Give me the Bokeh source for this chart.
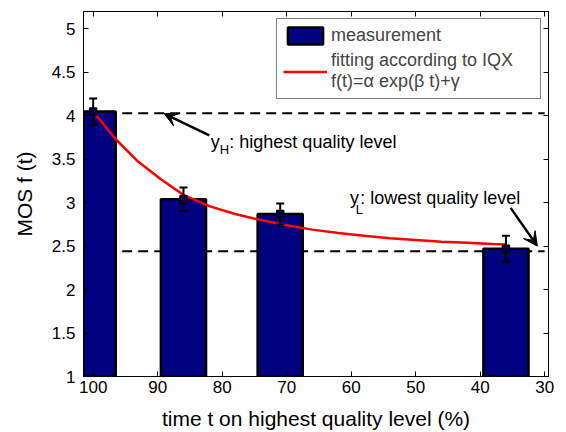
from bokeh.plotting import figure
from bokeh.models import (Range1d, FixedTicker, LinearAxis, Whisker, TeeHead, Arrow,
                          VeeHead, Legend, LegendItem, ColumnDataSource)
from bokeh.embed import file_html
from bokeh.resources import INLINE
from bokeh.core.properties import value

# ---------------- data ----------------
t_meas = [100, 86, 71, 36]            # time on highest quality level (%)
mos = [4.05, 3.04, 2.87, 2.47]        # measured MOS
ci = [0.15, 0.135, 0.12, 0.15]        # error bar half-widths

t_fit = [100, 96.5, 93, 89.5, 86, 82, 78, 74, 70, 66, 62, 58, 54, 50, 46, 42, 38, 36]
f_fit = [4.05, 3.73, 3.47, 3.27, 3.09, 2.96, 2.87, 2.80, 2.74, 2.69, 2.65, 2.62,
         2.59, 2.57, 2.55, 2.54, 2.525, 2.52]

y_high = 4.03
y_low = 2.44
level_t = [95.5, 30]

x_ticks = [100, 90, 80, 70, 60, 50, 40, 30]
y_ticks = [1, 1.5, 2, 2.5, 3, 3.5, 4, 4.5, 5]
y_tick_labels = ["1", "1.5", "2", "2.5", "3", "3.5", "4", "4.5", "5"]

FONT = "Liberation Sans"

p = figure(width=566, height=432, output_backend="svg", toolbar_location=None,
           x_range=Range1d(101.5, 29.4), y_range=Range1d(1, 5.2),
           min_border_left=83, min_border_right=18, min_border_top=11,
           min_border_bottom=55)
p.xgrid.visible = False
p.ygrid.visible = False
p.outline_line_color = "black"
p.outline_line_width = 1
p.background_fill_color = "white"

# dashed quality levels
p.line(level_t, [y_high, y_high], line_color="black", line_width=2, line_dash="10 6")
p.line(level_t, [y_low, y_low], line_color="black", line_width=2, line_dash="10 6")

bars = p.vbar(x=t_meas, top=mos, bottom=0, width=7, fill_color="#000080",
              line_color="black", line_width=2.5)
fit = p.line(t_fit, f_fit, line_color="red", line_width=2.5)

src = ColumnDataSource(dict(t=t_meas,
                            upper=[m + c for m, c in zip(mos, ci)],
                            lower=[m - c for m, c in zip(mos, ci)]))
wh = Whisker(source=src, base="t", upper="upper", lower="lower", line_width=2,
             line_color="black", level="annotation",
             upper_head=TeeHead(size=8, line_width=2, line_color="black"),
             lower_head=TeeHead(size=8, line_width=2, line_color="black"))
p.add_layout(wh)
p.scatter(t_meas, mos, marker="square", size=7, fill_color="#000080",
          line_color="black", line_width=1.5)

# arrows
p.add_layout(Arrow(x_start=82.0, y_start=3.775, x_end=89.0, y_end=4.024,
                   line_width=2.5, line_color="black",
                   end=VeeHead(size=14, fill_color="black", line_color="black")))
p.add_layout(Arrow(x_start=35.27, y_start=2.94, x_end=31.13, y_end=2.50,
                   line_width=2.5, line_color="black",
                   end=VeeHead(size=14, fill_color="black", line_color="black")))

# annotation texts
def txt(x, y, s, size):
    p.text(x=[x], y=[y], text=[s], text_font=value(FONT), text_font_size=size,
           text_baseline="alphabetic", text_align="left", text_color="black")

txt(81.76, 3.698, "y", "18px")
txt(80.37, 3.609, "H", "13px")
txt(78.89, 3.698, ": highest quality level", "18px")
txt(60.17, 3.049, "y", "18px")
txt(59.29, 2.927, "L", "13px")
txt(58.59, 3.049, ": lowest quality level", "18px")

# legend
legend = Legend(items=[LegendItem(label="measurement", renderers=[bars]),
                       LegendItem(label="fitting according to IQX\nf(t)=\u03b1 exp(\u03b2 t)+\u03b3",
                                  renderers=[fit])],
                location="top_right", margin=7, padding=6, spacing=4,
                glyph_width=44, glyph_height=21, label_standoff=4, label_width=203,
                label_text_font=FONT, label_text_font_size="18px",
                label_text_line_height=1.15,
                border_line_color="black", border_line_width=1.5,
                background_fill_color="white", background_fill_alpha=1)
p.add_layout(legend)

# axes
xa = p.xaxis[0]
xa.ticker = FixedTicker(ticks=x_ticks)
xa.axis_label = "time t on highest quality level (%)"
ya = p.yaxis[0]
ya.ticker = FixedTicker(ticks=y_ticks)
ya.major_label_overrides = {k: v for k, v in zip(y_ticks, y_tick_labels)}
ya.axis_label = "MOS f (t)"

for ax in (xa, ya):
    ax.major_label_text_font = FONT
    ax.major_label_text_font_size = "17px"
    ax.major_label_text_color = "black"
    ax.axis_label_text_font = FONT
    ax.axis_label_text_font_size = "21px"
    ax.axis_label_text_font_style = "normal"
    ax.axis_label_text_color = "black"
    ax.major_tick_in = 5
    ax.major_tick_out = 0
    ax.minor_tick_in = 0
    ax.minor_tick_out = 0
    ax.axis_line_color = "black"
    ax.major_tick_line_color = "black"
xa.major_label_standoff = 4
xa.axis_label_standoff = 11
ya.major_label_standoff = 8
ya.axis_label_standoff = 13

for loc, ticks in (("above", x_ticks), ("right", y_ticks)):
    ax = LinearAxis(ticker=FixedTicker(ticks=ticks), major_label_text_font_size="0px",
                    major_label_text_color=None, major_label_standoff=0,
                    major_tick_in=5, major_tick_out=0, minor_tick_in=0,
                    minor_tick_out=0, axis_line_color="black")
    p.add_layout(ax, loc)

open("out.html", "w").write(file_html(p, INLINE))
